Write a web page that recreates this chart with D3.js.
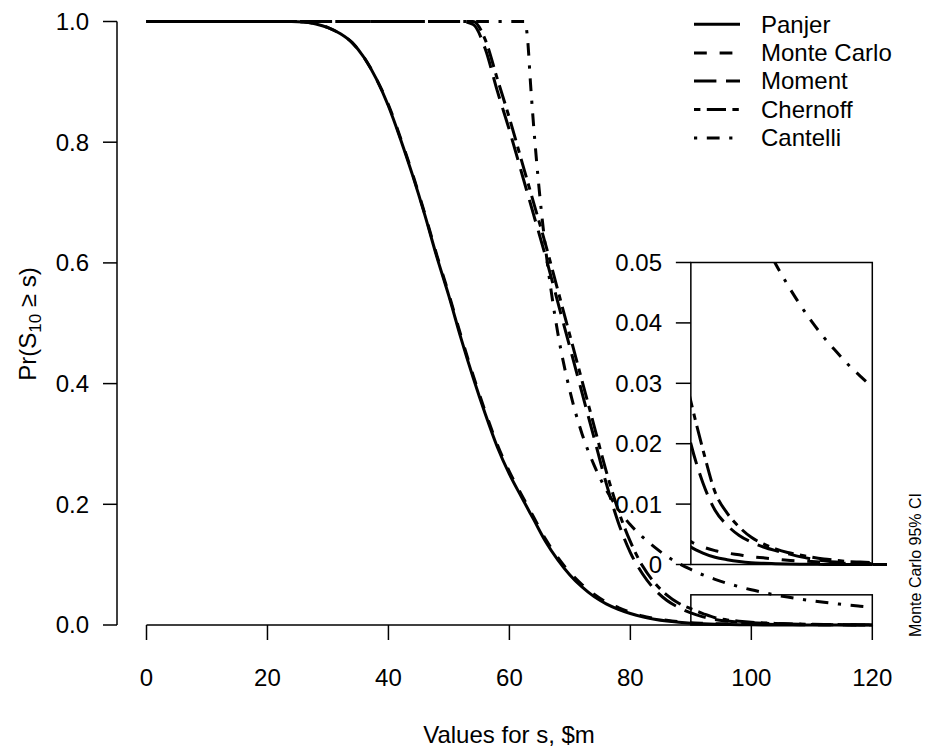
<!DOCTYPE html>
<html>
<head>
<meta charset="utf-8">
<script src="https://cdn.jsdelivr.net/npm/d3@7/dist/d3.min.js"></script>
<style>
  html, body { margin: 0; padding: 0; background: #fff; }
  text { font-family: "Liberation Sans", Arial, Helvetica, sans-serif; fill: #000; }
</style>
</head>
<body>
<svg id="chart" width="930" height="753"></svg>
<script>
// ---------------- data ----------------
const sGrid = [0,10,20,24,26,28,30,32,34,36,38,40,42,44,46,48,50,52,54,56,58,60,62,64,66,68,70,72,74,76,78,80,82,84,86,88,90,92,94,96,98,100,102,104,106,108,110,112,114,116,118,120];

const panjer = [1,1,1,1,
  0.999,0.996,0.99,0.98,0.965,0.94,0.905,0.86,0.805,0.745,0.68,0.61,0.545,0.475,
  0.41,0.35,0.295,0.25,0.212,0.175,0.138,0.108,0.083,0.063,0.047,0.035,0.026,0.019,0.0135,0.0095,0.0066,0.0045,0.0029,0.0019,0.0012,0.0008,0.0005,0.0003,0.0002,0.00013,0.00008,0.00005,0.00003,0.00002,0.00001,0.00001,0,0];

const monteCarlo = [1,1,1,1,
  0.999,0.996,0.99,0.98,0.965,0.94,0.905,0.862,0.807,0.747,0.682,0.613,0.548,0.479,
  0.414,0.354,0.299,0.254,0.216,0.179,0.142,0.112,0.087,0.067,0.051,0.038,0.029,0.021,0.015,0.011,0.0079,0.0055,0.0038,0.0029,0.0023,0.0019,0.0016,0.0013,0.0011,0.0009,0.0007,0.0006,0.0005,0.0004,0.0003,0.0002,0.0002,0.0001];

const moment = [1,1,1,1,
  1,1,1,1,1,1,1,1,1,1,1,1,1,1,
  0.995,0.955,0.885,0.82,0.75,0.68,0.61,0.535,0.46,0.385,0.31,0.235,0.17,0.12,0.085,0.059,0.041,0.029,0.020,0.0135,0.009,0.0065,0.0048,0.0037,0.0029,0.0023,0.0018,0.0013,0.0009,0.0006,0.0004,0.0003,0.0002,0.0001];

const chernoff = [1,1,1,1,
  1,1,1,1,1,1,1,1,1,1,1,1,1,1,
  1,0.97,0.905,0.84,0.77,0.70,0.63,0.555,0.48,0.405,0.33,0.255,0.19,0.138,0.098,0.07,0.05,0.036,0.027,0.019,0.012,0.0085,0.0062,0.0045,0.0034,0.0026,0.002,0.0016,0.0012,0.0009,0.0007,0.0005,0.0004,0.0003];

const cantelliS = [0,20,40,60,62,62.5,63,63.5,64,65,66,67,68,70,72,74,76,78,80,82,84,86,88,90,92,94,96,98,100,102,104,106,108,110,112,114,116,118,120];
const cantelli  = [1,1,1,1,1,1,0.972,0.896,0.828,0.714,0.622,0.547,0.484,0.388,0.317,0.265,0.224,0.192,0.166,0.146,0.129,0.114,0.102,0.092,0.083,0.0757,0.0691,0.0634,0.0583,0.0538,0.0498,0.0463,0.0431,0.0402,0.0376,0.0353,0.0331,0.0312,0.0294];

const seriesNames = ["Panjer","Monte Carlo","Moment","Chernoff","Cantelli"];
const xTicks = [0,20,40,60,80,100,120];
const yTicks = [0,0.2,0.4,0.6,0.8,1.0];
const yTickLabels = ["0.0","0.2","0.4","0.6","0.8","1.0"];
const insetTicks = [0,0.01,0.02,0.03,0.04,0.05];
const insetTickLabels = ["0","0.01","0.02","0.03","0.04","0.05"];
const xTitle = "Values for s, $m";
const insetSideLabel = "Monte Carlo 95% CI";

// ---------------- styles ----------------
const U = 3.2; // dash unit
const dashes = [
  null,
  [4*U,4*U].join(","),
  [7*U,3*U].join(","),
  [2*U,2*U,6*U,2*U].join(","),
  [1*U,3*U,4*U,3*U].join(",")
];
const LW = 3;
const FS = 24;

const series = [
  {name: seriesNames[0], s: sGrid, p: panjer, dash: dashes[0]},
  {name: seriesNames[1], s: sGrid, p: monteCarlo, dash: dashes[1]},
  {name: seriesNames[2], s: sGrid, p: moment, dash: dashes[2]},
  {name: seriesNames[3], s: sGrid, p: chernoff, dash: dashes[3]},
  {name: seriesNames[4], s: cantelliS, p: cantelli, dash: dashes[4]}
];

// ---------------- layout ----------------
const svg = d3.select("#chart");
const x = d3.scaleLinear().domain([0,120]).range([146.5, 872.3]);
const y = d3.scaleLinear().domain([0,1]).range([625, 21.5]);
const yIn = d3.scaleLinear().domain([0,0.05]).range([564.5, 262.5]);

const defs = svg.append("defs");
defs.append("clipPath").attr("id","clipMain").append("rect")
  .attr("x", 117).attr("y", 0).attr("width", 901-117).attr("height", 649);
defs.append("clipPath").attr("id","clipInset").append("rect")
  .attr("x", x(90)).attr("y", yIn(0.05)).attr("width", 887 - x(90)).attr("height", yIn(0) + 6 - yIn(0.05));

// ---------------- main curves ----------------
const lineMain = d3.line().x(d => x(d[0])).y(d => y(d[1])).curve(d3.curveMonotoneX);
const gMain = svg.append("g").attr("clip-path","url(#clipMain)");
series.forEach(sr => {
  const pts = sr.s.map((v,i) => [v, sr.p[i]]);
  gMain.append("path").attr("d", lineMain(pts))
    .attr("fill","none").attr("stroke","#000").attr("stroke-width",LW)
    .attr("stroke-dasharray", sr.dash).attr("stroke-linecap","butt").attr("stroke-linejoin","round");
});

// small rectangle marking the zoomed region
svg.append("rect").attr("x", x(90)).attr("y", y(0.05)).attr("width", x(120)-x(90)).attr("height", y(0)-y(0.05))
  .attr("fill","none").attr("stroke","#000").attr("stroke-width",1.5);

// ---------------- axes ----------------
const xAxis = svg.append("g");
xAxis.append("line").attr("x1",x(0)).attr("x2",x(120)).attr("y1",625).attr("y2",625).attr("stroke","#000").attr("stroke-width",1.5);
xTicks.forEach(t => {
  xAxis.append("line").attr("x1",x(t)).attr("x2",x(t)).attr("y1",625).attr("y2",640).attr("stroke","#000").attr("stroke-width",1.5);
  xAxis.append("text").attr("x",x(t)).attr("y",686).attr("text-anchor","middle").attr("font-size",FS).text(t);
});
const yAxis = svg.append("g");
yAxis.append("line").attr("x1",117).attr("x2",117).attr("y1",y(0)).attr("y2",y(1)).attr("stroke","#000").attr("stroke-width",1.5);
yTicks.forEach((t,i) => {
  yAxis.append("line").attr("x1",103).attr("x2",117).attr("y1",y(t)).attr("y2",y(t)).attr("stroke","#000").attr("stroke-width",1.5);
  yAxis.append("text").attr("x",89).attr("y",y(t)).attr("dy","0.35em").attr("text-anchor","end").attr("font-size",FS).text(yTickLabels[i]);
});

svg.append("text").attr("x", 509).attr("y", 743).attr("text-anchor","middle").attr("font-size",FS).text(xTitle);

const yt = svg.append("text").attr("transform","translate(36,324) rotate(-90)").attr("text-anchor","middle").attr("font-size",FS);
yt.append("tspan").text("Pr(S");
yt.append("tspan").attr("font-size",17).attr("dy",5).text("10");
yt.append("tspan").attr("dy",-5).text(" \u2265 s)");

// ---------------- legend ----------------
const legY = [24.3, 53, 81, 109.5, 138];
series.forEach((sr,i) => {
  svg.append("line").attr("x1",694).attr("x2",740).attr("y1",legY[i]).attr("y2",legY[i])
    .attr("stroke","#000").attr("stroke-width",LW).attr("stroke-dasharray",sr.dash);
  svg.append("text").attr("x",761).attr("y",legY[i]).attr("dy","0.35em").attr("font-size",FS).text(sr.name);
});

// ---------------- inset ----------------
const gIn = svg.append("g").attr("clip-path","url(#clipInset)");
const lineIn = d3.line().x(d => x(d[0])).y(d => yIn(d[1])).curve(d3.curveMonotoneX);
series.forEach(sr => {
  const pts = sr.s.map((v,i) => [v, sr.p[i]]).filter(d => d[0] >= 86);
  gIn.append("path").attr("d", lineIn(pts))
    .attr("fill","none").attr("stroke","#000").attr("stroke-width",LW)
    .attr("stroke-dasharray", sr.dash).attr("stroke-linecap","butt").attr("stroke-linejoin","round");
});
gIn.append("line").attr("x1",x(120)).attr("x2",887).attr("y1",yIn(0)).attr("y2",yIn(0)).attr("stroke","#000").attr("stroke-width",LW);

svg.append("rect").attr("x", x(90)).attr("y", yIn(0.05)).attr("width", x(120)-x(90)).attr("height", yIn(0)-yIn(0.05))
  .attr("fill","none").attr("stroke","#000").attr("stroke-width",1.5);
insetTicks.forEach((t,i) => {
  svg.append("line").attr("x1",x(90)-15).attr("x2",x(90)).attr("y1",yIn(t)).attr("y2",yIn(t)).attr("stroke","#000").attr("stroke-width",1.5);
  svg.append("text").attr("x",662).attr("y",yIn(t)).attr("dy","0.35em").attr("text-anchor","end").attr("font-size",FS).text(insetTickLabels[i]);
});
svg.append("text").attr("transform","translate(921,565) rotate(-90)").attr("text-anchor","middle").attr("font-size",16).text(insetSideLabel);
</script>
</body>
</html>
